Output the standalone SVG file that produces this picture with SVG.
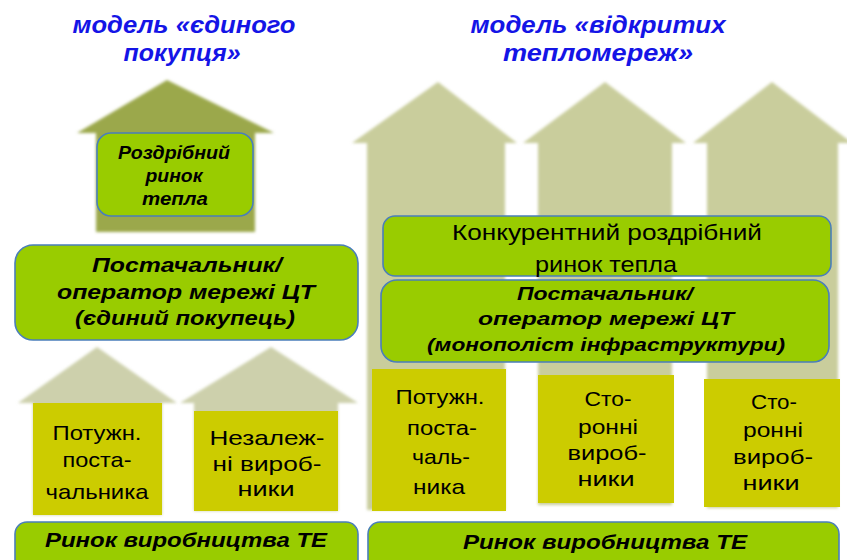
<svg xmlns="http://www.w3.org/2000/svg" width="847" height="560" viewBox="0 0 847 560">
<defs>
<filter id="soft" x="-5%" y="-5%" width="110%" height="110%"><feGaussianBlur stdDeviation="1.4"/></filter>
</defs>
<style>
.title{font-family:"Liberation Sans",Arial,sans-serif;font-weight:bold;font-style:italic;font-size:24px;fill:#1414E6;text-anchor:middle}
.green{fill:#99CC00;stroke:#4A7EBB;stroke-width:1.6}
.yellow{fill:#CCCC00}
.bi{font-family:"Liberation Sans",Arial,sans-serif;font-weight:bold;font-style:italic;fill:#000;text-anchor:middle}
.reg{font-family:"Liberation Sans",Arial,sans-serif;fill:#000;text-anchor:middle}
.dark{fill:#9BA84C}
.light{fill:#C9CD9C}
.pale{fill:#CDD0AC}
</style>
<rect width="847" height="560" fill="#fff"/>
<g id="titles">
<text class="title" x="184" y="33" textLength="223" lengthAdjust="spacingAndGlyphs">модель «єдиного</text>
<text class="title" x="182" y="61" textLength="117" lengthAdjust="spacingAndGlyphs">покупця»</text>
<text class="title" x="598" y="33" textLength="255" lengthAdjust="spacingAndGlyphs">модель «відкритих</text>
<text class="title" x="598" y="61" textLength="190" lengthAdjust="spacingAndGlyphs">тепломереж»</text>
</g>
<g id="houses" filter="url(#soft)">
<polygon class="dark" points="167,80 274,133 255,133 255,232 96,232 96,133 77,133"/>
<polygon class="light" points="438,82 517,143 505,143 505,510 367,510 367,143 352,143"/>
<polygon class="light" points="605,82 686,143 672,143 672,505 538,505 538,143 523,143"/>
<polygon class="light" points="772,82 852,143 838,143 838,508 707,508 707,143 693,143"/>
<polygon class="pale" points="97,347 177,403 162,403 162,515 33,515 33,403 18,403"/>
<polygon class="pale" points="271,347 358,403 338,403 338,511 194,511 194,403 180,403"/>
</g>
<g id="retail-left">
<rect class="green" x="97" y="133" width="156" height="83" rx="14"/>
<text class="bi" font-size="19" x="174" y="159" textLength="112" lengthAdjust="spacingAndGlyphs">Роздрібний</text>
<text class="bi" font-size="19" x="174" y="182" textLength="57" lengthAdjust="spacingAndGlyphs">ринок</text>
<text class="bi" font-size="19" x="175" y="205" textLength="66" lengthAdjust="spacingAndGlyphs">тепла</text>
</g>
<g id="supplier-left">
<rect class="green" x="15" y="245" width="343" height="95" rx="18"/>
<text class="bi" font-size="20" x="187" y="272" textLength="190" lengthAdjust="spacingAndGlyphs">Постачальник/</text>
<text class="bi" font-size="20" x="186" y="299" textLength="258" lengthAdjust="spacingAndGlyphs">оператор мережі ЦТ</text>
<text class="bi" font-size="20" x="185" y="325" textLength="220" lengthAdjust="spacingAndGlyphs">(єдиний покупець)</text>
</g>
<g id="gen-left-1">
<rect class="yellow" x="33" y="403" width="129" height="112"/>
<text class="reg" font-size="21" x="97" y="440" textLength="89" lengthAdjust="spacingAndGlyphs">Потужн.</text>
<text class="reg" font-size="21" x="97" y="467" textLength="69" lengthAdjust="spacingAndGlyphs">поста-</text>
<text class="reg" font-size="21" x="97" y="499" textLength="103" lengthAdjust="spacingAndGlyphs">чальника</text>
</g>
<g id="gen-left-2">
<rect class="yellow" x="194" y="411" width="144" height="100"/>
<text class="reg" font-size="21" x="267" y="445" textLength="115" lengthAdjust="spacingAndGlyphs">Незалеж-</text>
<text class="reg" font-size="21" x="267" y="471" textLength="109" lengthAdjust="spacingAndGlyphs">ні вироб-</text>
<text class="reg" font-size="21" x="266" y="496" textLength="57" lengthAdjust="spacingAndGlyphs">ники</text>
</g>
<g id="market-left">
<rect class="green" x="15" y="522" width="343" height="50" rx="12"/>
<text class="bi" font-size="20" x="186" y="547" textLength="282" lengthAdjust="spacingAndGlyphs">Ринок виробництва ТЕ</text>
</g>
<g id="retail-right">
<rect class="green" x="383" y="216" width="448" height="60" rx="12"/>
<text class="reg" font-size="22" x="607" y="240" textLength="310" lengthAdjust="spacingAndGlyphs">Конкурентний  роздрібний</text>
<text class="reg" font-size="22" x="606" y="272" textLength="142" lengthAdjust="spacingAndGlyphs">ринок тепла</text>
</g>
<g id="supplier-right">
<rect class="green" x="381" y="280" width="448" height="82" rx="16"/>
<text class="bi" font-size="19" x="605" y="300" textLength="176" lengthAdjust="spacingAndGlyphs">Постачальник/</text>
<text class="bi" font-size="19" x="606" y="325" textLength="256" lengthAdjust="spacingAndGlyphs">оператор мережі  ЦТ</text>
<text class="bi" font-size="19" x="606" y="351" textLength="358" lengthAdjust="spacingAndGlyphs">(монополіст  інфраструктури)</text>
</g>
<g id="gen-right-1">
<rect class="yellow" x="372" y="369" width="134" height="142"/>
<text class="reg" font-size="21" x="440" y="404" textLength="89" lengthAdjust="spacingAndGlyphs">Потужн.</text>
<text class="reg" font-size="21" x="442" y="435" textLength="70" lengthAdjust="spacingAndGlyphs">поста-</text>
<text class="reg" font-size="21" x="441" y="464" textLength="58" lengthAdjust="spacingAndGlyphs">чаль-</text>
<text class="reg" font-size="21" x="439" y="494" textLength="52" lengthAdjust="spacingAndGlyphs">ника</text>
</g>
<g id="gen-right-2">
<rect class="yellow" x="538" y="375" width="136" height="128"/>
<text class="reg" font-size="21" x="608" y="406" textLength="47" lengthAdjust="spacingAndGlyphs">Сто-</text>
<text class="reg" font-size="21" x="608" y="434" textLength="60" lengthAdjust="spacingAndGlyphs">ронні</text>
<text class="reg" font-size="21" x="607" y="460" textLength="79" lengthAdjust="spacingAndGlyphs">вироб-</text>
<text class="reg" font-size="21" x="606" y="486" textLength="57" lengthAdjust="spacingAndGlyphs">ники</text>
</g>
<g id="gen-right-3">
<rect class="yellow" x="704" y="379" width="136" height="128"/>
<text class="reg" font-size="21" x="774" y="409" textLength="46" lengthAdjust="spacingAndGlyphs">Сто-</text>
<text class="reg" font-size="21" x="773" y="437" textLength="60" lengthAdjust="spacingAndGlyphs">ронні</text>
<text class="reg" font-size="21" x="773" y="464" textLength="80" lengthAdjust="spacingAndGlyphs">вироб-</text>
<text class="reg" font-size="21" x="771" y="490" textLength="57" lengthAdjust="spacingAndGlyphs">ники</text>
</g>
<g id="market-right">
<rect class="green" x="368" y="522" width="471" height="50" rx="12"/>
<text class="bi" font-size="20" x="605" y="549" textLength="284" lengthAdjust="spacingAndGlyphs">Ринок виробництва ТЕ</text>
</g>
<g id="connectors"></g>
</svg>
